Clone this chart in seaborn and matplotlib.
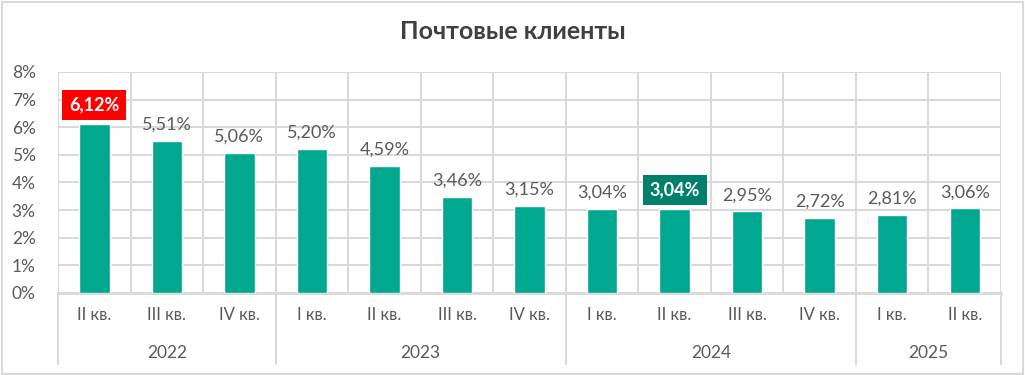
import matplotlib
matplotlib.use("Agg")
import matplotlib.pyplot as plt
import seaborn as sns
import pandas as pd

title = "Почтовые клиенты"
years = ["2022", "2023", "2024", "2025"]
year_quarters = [
    ["II кв.", "III кв.", "IV кв."],
    ["I кв.", "II кв.", "III кв.", "IV кв."],
    ["I кв.", "II кв.", "III кв.", "IV кв."],
    ["I кв.", "II кв."],
]
values = [6.12, 5.51, 5.06, 5.20, 4.59, 3.46, 3.15, 3.04, 3.04, 2.95, 2.72, 2.81, 3.06]
highlight = {0: "#FF0000", 8: "#00806A"}

quarters = [q for qs in year_quarters for q in qs]
keys = [f"{y} {q}" for y, qs in zip(years, year_quarters) for q in qs]
df = pd.DataFrame({"key": keys, "value": values})

sns.set_style("white")
plt.rcParams["font.family"] = ["Lato", "DejaVu Sans"]
text_col = "#595959"
grid_col = "#D9D9D9"
bar_col = "#00A88F"

fig = plt.figure(figsize=(10.25, 3.75), dpi=100)
ax = fig.add_axes([0.0566, 0.2187, 0.92, 0.5893])

sns.barplot(data=df, x="key", y="value", color=bar_col, width=0.42,
            saturation=1, ax=ax, zorder=3)

ax.set_ylim(0, 8)
ax.set_xlim(-0.5, len(values) - 0.5)
ax.set_yticks(range(0, 9))
ax.set_yticklabels([f"{i}%" for i in range(0, 9)], color=text_col, fontsize=12.5)
ax.tick_params(axis="y", length=0, pad=16)
ax.tick_params(axis="x", length=0)
ax.set_xticks([])
ax.set_xlabel("")
ax.set_ylabel("")
for i in range(len(values) + 1):
    ax.axvline(i - 0.5, color=grid_col, lw=1.5, zorder=1)
ax.grid(axis="y", color=grid_col, lw=1.5, zorder=1)
for s in ["top", "right", "left"]:
    ax.spines[s].set_visible(False)
ax.spines["bottom"].set_color(grid_col)
ax.spines["bottom"].set_linewidth(2)

# value labels
for i, v in enumerate(values):
    lab = f"{v:.2f}%".replace(".", ",")
    if i in highlight:
        ax.text(i, v + 0.38, lab, ha="center", va="bottom", fontsize=13,
                fontweight="bold", color="white", zorder=5,
                bbox=dict(boxstyle="square,pad=0.38", fc=highlight[i], ec="none"))
    else:
        ax.text(i, v + 0.3, lab, ha="center", va="bottom", fontsize=13,
                color=text_col, zorder=5)

# quarter labels and year groups
trans = ax.get_xaxis_transform()
for i, q in enumerate(quarters):
    ax.text(i, -0.1, q, transform=trans, ha="center", va="center",
            fontsize=12, color=text_col)
start = 0
bounds = [-0.5]
for y, qs in zip(years, year_quarters):
    n = len(qs)
    ax.text(start + (n - 1) / 2, -0.27, y, transform=trans, ha="center",
            va="center", fontsize=12.5, color=text_col)
    start += n
    bounds.append(start - 0.5)
for b in bounds:
    ax.plot([b, b], [0, -0.32], transform=trans, color=grid_col, lw=1.5,
            clip_on=False)

fig.text(0.5, 0.915, title, ha="center", va="center", fontsize=18,
         fontweight="bold", color="#404040")

fig.add_artist(plt.Rectangle((0.002, 0.004), 0.996, 0.992, transform=fig.transFigure,
                             fill=False, ec=grid_col, lw=1.5))

fig.savefig("out.png", dpi=100)
